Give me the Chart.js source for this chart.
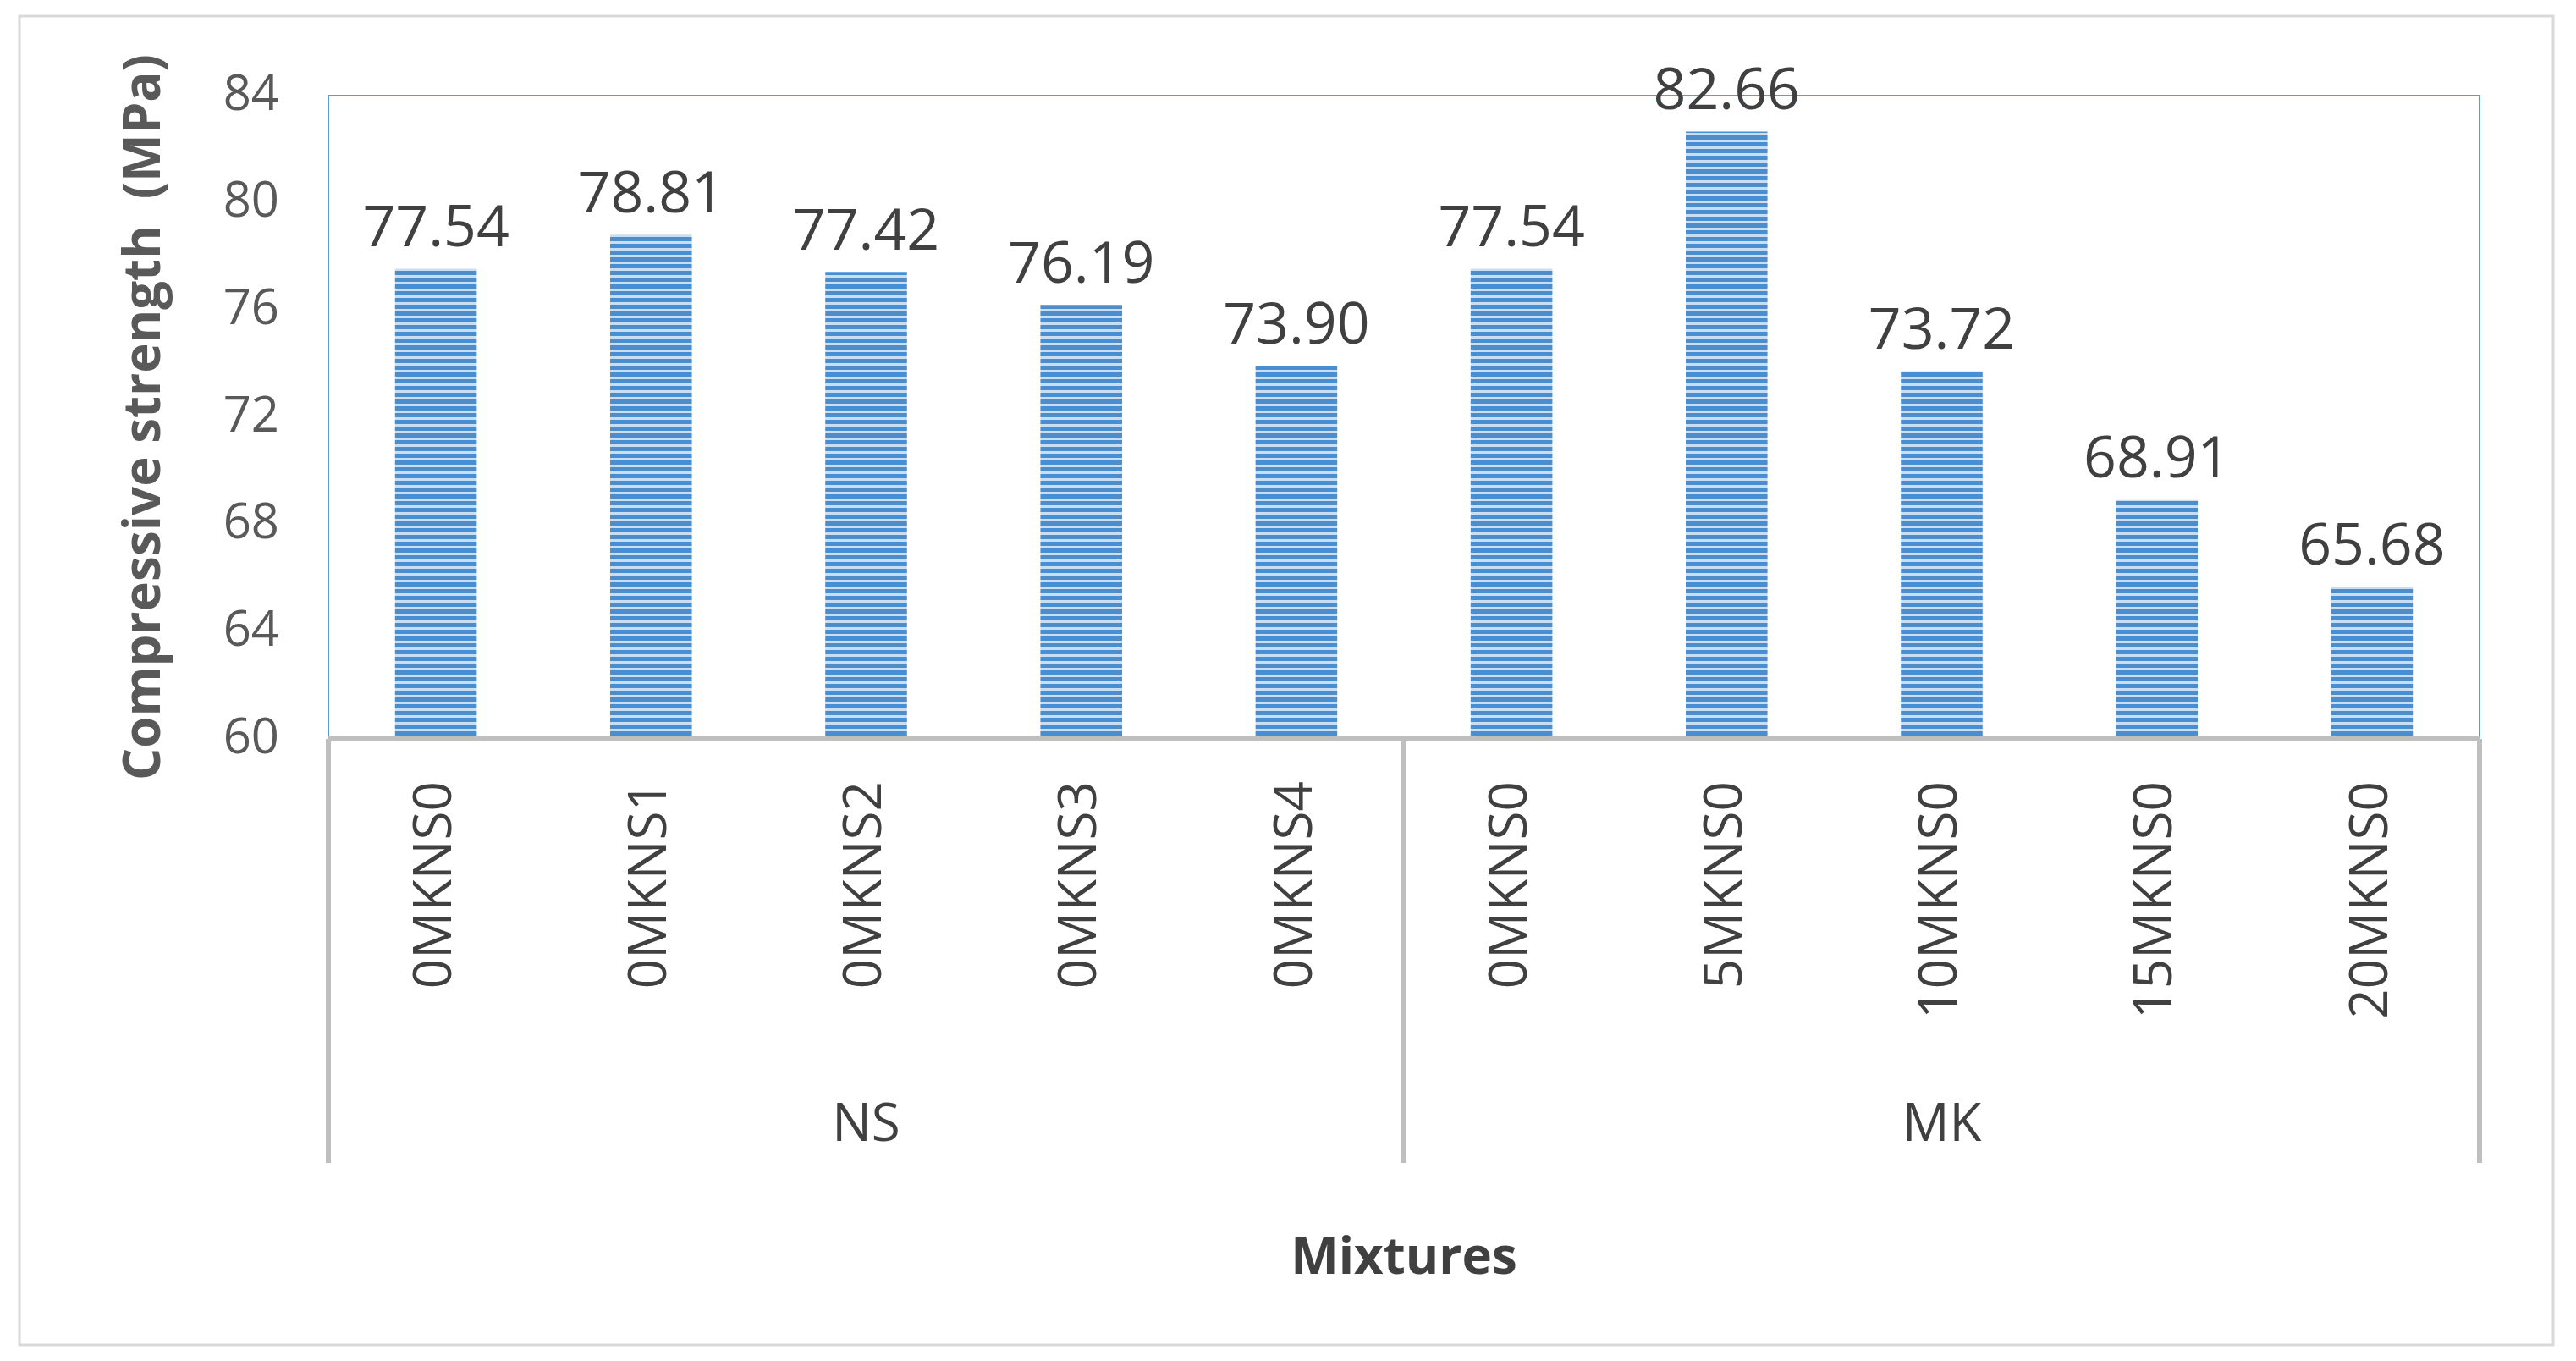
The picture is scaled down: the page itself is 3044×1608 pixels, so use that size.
<!DOCTYPE html>
<html>
<head>
<meta charset="utf-8">
<script src="https://cdn.jsdelivr.net/npm/chart.js@4"></script>
<style>
  html, body { margin: 0; padding: 0; background: #fff; }
  #wrap { width: 3044px; height: 1608px; }
</style>
</head>
<body>
<div id="wrap"><canvas id="myChart" width="3044" height="1608"></canvas></div>
<script>
var mixtures = ['0MKNS0', '0MKNS1', '0MKNS2', '0MKNS3', '0MKNS4', '0MKNS0', '5MKNS0', '10MKNS0', '15MKNS0', '20MKNS0'];
var groups = ['NS', 'MK'];
var groupSize = [5, 5];
var strength = [77.54, 78.81, 77.42, 76.19, 73.90, 77.54, 82.66, 73.72, 68.91, 65.68];
var yTicks = [60, 64, 68, 72, 76, 80, 84];

// striped fill like the original
function stripes() {
  var c = document.createElement('canvas');
  c.width = 8; c.height = 8;
  var g = c.getContext('2d');
  g.fillStyle = '#4a8ed0'; g.fillRect(0, 0, 8, 8);
  g.fillStyle = '#c9def2'; g.fillRect(0, 5, 8, 3);
  return g.createPattern(c, 'repeat');
}

var categoryPlugin = {
  id: 'cats',
  afterDraw: function(chart) {
    var ctx = chart.ctx, a = chart.chartArea, x = chart.scales.x;
    ctx.save();
    // plot border
    ctx.strokeStyle = '#5b9bd5'; ctx.lineWidth = 2;
    ctx.strokeRect(a.left, a.top, a.right - a.left, a.bottom - a.top);
    // outer frame
    ctx.strokeStyle = '#d9d9d9'; ctx.lineWidth = 3;
    ctx.strokeRect(23, 19, 2994, 1570);
    // category axis lines
    ctx.strokeStyle = '#bfbfbf'; ctx.lineWidth = 6;
    ctx.beginPath();
    ctx.moveTo(a.left, a.bottom); ctx.lineTo(a.right, a.bottom);
    var step = (a.right - a.left) / mixtures.length, idx = 0;
    var edges = [a.left];
    groupSize.forEach(function(n) { idx += n; edges.push(a.left + idx * step); });
    edges.forEach(function(e) { ctx.moveTo(e, a.bottom); ctx.lineTo(e, 1374); });
    ctx.stroke();
    // data labels
    ctx.fillStyle = '#404040';
    ctx.font = '68px "Open Sans", sans-serif';
    ctx.textAlign = 'center'; ctx.textBaseline = 'bottom';
    var meta = chart.getDatasetMeta(0);
    meta.data.forEach(function(bar, i) {
      ctx.fillText(strength[i].toFixed(2), bar.x, bar.y - 12);
    });
    // rotated category labels
    ctx.font = '62px "Open Sans", sans-serif';
    mixtures.forEach(function(m, i) {
      ctx.save();
      ctx.translate(x.getPixelForValue(i), a.bottom + 50);
      ctx.rotate(-Math.PI / 2);
      ctx.textAlign = 'right'; ctx.textBaseline = 'middle';
      ctx.fillText(m, 0, 0);
      ctx.restore();
    });
    // group labels
    ctx.textAlign = 'center'; ctx.textBaseline = 'middle';
    groups.forEach(function(g, i) {
      ctx.fillText(g, (edges[i] + edges[i + 1]) / 2, 1330);
    });
    // x title
    ctx.font = 'bold 60px "Open Sans", sans-serif';
    ctx.fillText('Mixtures', (a.left + a.right) / 2, 1488);
    ctx.restore();
  }
};

var ctx = document.getElementById('myChart').getContext('2d');
var chart = new Chart(ctx, {
  type: 'bar',
  data: {
    labels: mixtures,
    datasets: [{
      data: strength,
      backgroundColor: stripes(),
      borderWidth: 0,
      barPercentage: 0.38,
      categoryPercentage: 1
    }]
  },
  options: {
    responsive: false,
    animation: false,
    layout: { padding: { left: 136, right: 114, top: 113, bottom: 735 } },
    plugins: { legend: { display: false }, tooltip: { enabled: false } },
    scales: {
      x: { display: false },
      y: {
        min: 60, max: 84,
        afterBuildTicks: function(s) { s.ticks = yTicks.map(function(v) { return { value: v }; }); },
        afterFit: function(s) { s.width = 252; },
        grid: { display: false },
        border: { display: false },
        ticks: { color: '#595959', font: { size: 58, family: '"Open Sans", sans-serif' }, padding: 50 },
        title: {
          display: true, text: 'Compressive strength  (MPa)', color: '#595959', padding: 0,
          font: { size: 60, weight: 'bold', family: '"Open Sans", sans-serif' }
        }
      }
    }
  },
  plugins: [categoryPlugin]
});
</script>
</body>
</html>
